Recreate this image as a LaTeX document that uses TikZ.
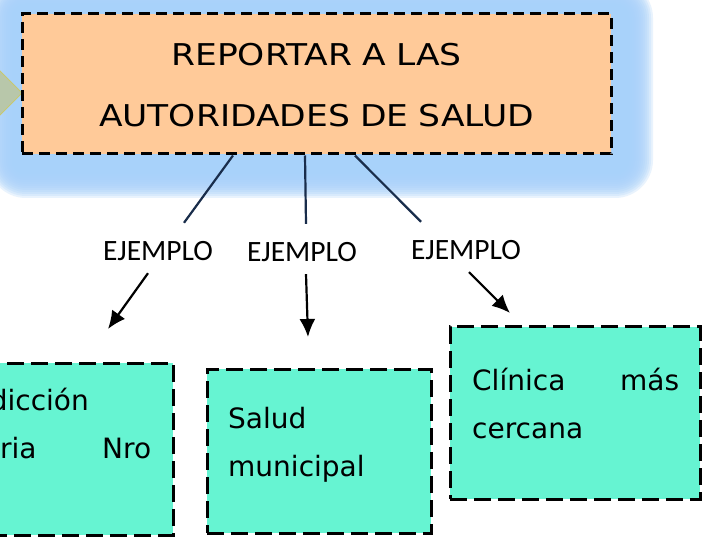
\documentclass[tikz,border=0pt]{standalone}
\usepackage{fontspec}
\setmainfont{DejaVu Sans}
\newfontfamily\comicwide[FakeStretch=1.15]{DejaVu Sans}
\newfontfamily\comicfont{DejaVu Sans}
\newfontfamily\calib{Carlito}
\usetikzlibrary{arrows.meta}
\definecolor{peach}{RGB}{255,202,153}
\definecolor{turq}{RGB}{102,244,210}
\definecolor{glowblue}{RGB}{168,210,250}
\definecolor{trifill}{RGB}{184,199,170}
\definecolor{triborder}{RGB}{200,200,110}
\definecolor{navy}{RGB}{25,45,75}
\tikzset{
  topbox/.style={draw=black, fill=peach, line width=3pt, dash pattern=on 11pt off 6pt,
    inner sep=0pt, minimum width=589pt, minimum height=140pt},
  leafbox/.style={draw=black, fill=turq, line width=3pt, dash pattern=on 17pt off 7pt,
    inner sep=0pt},
  toptext/.style={font=\comicwide\fontsize{30}{61}\selectfont, align=center,
    text width=580pt, inner sep=0pt},
  leaftext/.style={font=\comicfont\fontsize{28}{48}\selectfont, align=left, inner sep=0pt},
  ejlabel/.style={font=\calib\fontsize{29.5}{32}\selectfont, text height=26pt, text depth=0pt,
    inner xsep=0pt, inner ysep=12pt},
  upline/.style={draw=navy, line width=2.2pt},
  downarrow/.style={draw=black, line width=2.2pt, -{Latex[length=18pt,width=16pt]}},
}
\begin{document}
\begin{tikzpicture}[x=1pt, y=-1pt]
\useasboundingbox (0,0) rectangle (715,545);
\fill[white] (0,0) rectangle (715,545);
% glow behind the top box
\foreach \o in {38,36,...,10}
  \fill[glowblue, opacity=0.25, rounded corners=\o pt] ({26-\o},{18-\o}) rectangle ({615+\o},{160+\o});
% partial diamond on the left
\fill[trifill, draw=triborder, line width=1pt] (-5,66) -- (22,93) -- (-5,120) -- cycle;
% top box
\node[topbox] (top) at (316.5,84) {};
\node[toptext, anchor=base] (toptxt) at (316.5,66) {REPORTAR A LAS\\AUTORIDADES DE SALUD};
% labels
\node[ejlabel, anchor=base] (lab1) at (158,261) {EJEMPLO};
\node[ejlabel, anchor=base] (lab2) at (302,262) {EJEMPLO};
\node[ejlabel, anchor=base] (lab3) at (466,260) {EJEMPLO};
% leaf boxes
\node[leafbox, minimum width=183pt, minimum height=172pt] (box1) at (81.5,449) {};
\node[leafbox, minimum width=224pt, minimum height=164pt] (box2) at (319,451) {};
\node[leafbox, minimum width=250pt, minimum height=172pt] (box3) at (575,413) {};
% leaf texts
\node[leaftext, anchor=base east] (t1a) at (89,410) {dicción};
\node[leaftext, anchor=base west, text width=151pt] (t1b) at (0,458) {ria\hfill Nro};
\node[leaftext, anchor=base west, text width=190pt] (t2) at (228,428) {Salud\\municipal};
\node[leaftext, anchor=base west, text width=207pt] (t3) at (472,390) {Clínica\hfill más\\cercana};
% arrow tips
\coordinate (tip1) at (108,329);
\coordinate (tip2) at (308,337);
\coordinate (tip3) at (510,313);
% connectors from the top box to the labels
\draw[upline] ([xshift=-83.5pt]top.south) -- (184,0 |- lab1.north);
\draw[upline] ([xshift=-11.5pt]top.south) -- (306,0 |- lab2.north);
\draw[upline] ([xshift=38.5pt]top.south) -- (421,0 |- lab3.north);
% arrows from the labels
\draw[downarrow] (148,0 |- lab1.south) -- (tip1);
\draw[downarrow] (306,0 |- lab2.south) -- (tip2);
\draw[downarrow] (469,0 |- lab3.south) -- (tip3);
\end{tikzpicture}
\end{document}
